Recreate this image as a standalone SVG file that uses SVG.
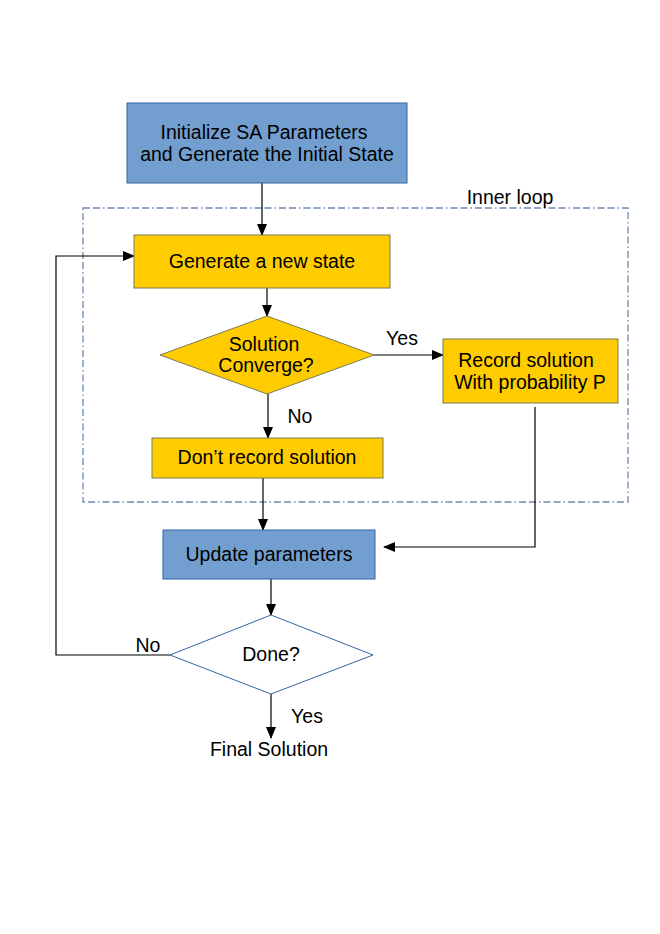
<svg xmlns="http://www.w3.org/2000/svg" width="660" height="934" viewBox="0 0 660 934">
<defs>
<marker id="arr" markerWidth="12" markerHeight="10" refX="11" refY="5" orient="auto" markerUnits="userSpaceOnUse">
<path d="M0,0 L12,5 L0,10 Z" fill="#000"/>
</marker>
<style>
text{font-family:"Liberation Sans",Arial,sans-serif;font-size:19.5px;fill:#000;text-anchor:middle}
.blue{fill:#729fcf;stroke:#3465a4;stroke-width:1}
.yel{fill:#ffcc00;stroke:#7a7a55;stroke-width:1}
.c{fill:none;stroke:#000;stroke-width:1.2}
</style>
</defs>
<rect width="660" height="934" fill="#fff"/>
<g id="inner-loop">
<rect x="83" y="208" width="545" height="294" fill="none" stroke="#6d8bb0" stroke-width="1.3" stroke-dasharray="7,3,7,3,1.5,3"/>
<text x="510" y="204">Inner loop</text>
</g>
<g id="connectors">
<line class="c" x1="262" y1="183" x2="262" y2="235" marker-end="url(#arr)"/>
<line class="c" x1="267" y1="288" x2="267" y2="316" marker-end="url(#arr)"/>
<line class="c" x1="374" y1="355" x2="443" y2="355" marker-end="url(#arr)"/>
<line class="c" x1="268" y1="394" x2="268" y2="438" marker-end="url(#arr)"/>
<line class="c" x1="263" y1="478" x2="263" y2="530" marker-end="url(#arr)"/>
<polyline class="c" points="535,407 535,547 384,547" marker-end="url(#arr)"/>
<line class="c" x1="271" y1="579" x2="271" y2="615" marker-end="url(#arr)"/>
<polyline class="c" points="170,655 56,655 56,256 134,256" marker-end="url(#arr)"/>
<line class="c" x1="271" y1="694" x2="271" y2="738" marker-end="url(#arr)"/>
<text x="402" y="345">Yes</text>
<text x="300" y="423">No</text>
<text x="148" y="652">No</text>
<text x="307" y="723">Yes</text>
</g>
<g id="init">
<rect class="blue" x="127" y="103" width="280" height="80"/>
<text x="264" y="139">Initialize SA Parameters</text>
<text x="267" y="161">and Generate the Initial State</text>
</g>
<g id="generate">
<rect class="yel" x="134" y="235" width="256" height="53"/>
<text x="262" y="268">Generate a new state</text>
</g>
<g id="converge">
<polygon class="yel" points="160,355 267,316 374,355 267,394"/>
<text x="264" y="351">Solution</text>
<text x="266" y="372">Converge?</text>
</g>
<g id="record">
<rect class="yel" x="443" y="339" width="175" height="64"/>
<text x="526" y="367">Record solution</text>
<text x="530" y="389">With probability P</text>
</g>
<g id="dont-record">
<rect class="yel" x="152" y="438" width="231" height="40"/>
<text x="267" y="464">Don’t record solution</text>
</g>
<g id="update">
<rect class="blue" x="163" y="530" width="212" height="49"/>
<text x="269" y="561">Update parameters</text>
</g>
<g id="done">
<polygon points="170,655 271,615 373,655 271,694" fill="#fff" stroke="#3465a4" stroke-width="1"/>
<text x="271" y="661">Done?</text>
</g>
<g id="final">
<text x="269" y="756">Final Solution</text>
</g>
</svg>
